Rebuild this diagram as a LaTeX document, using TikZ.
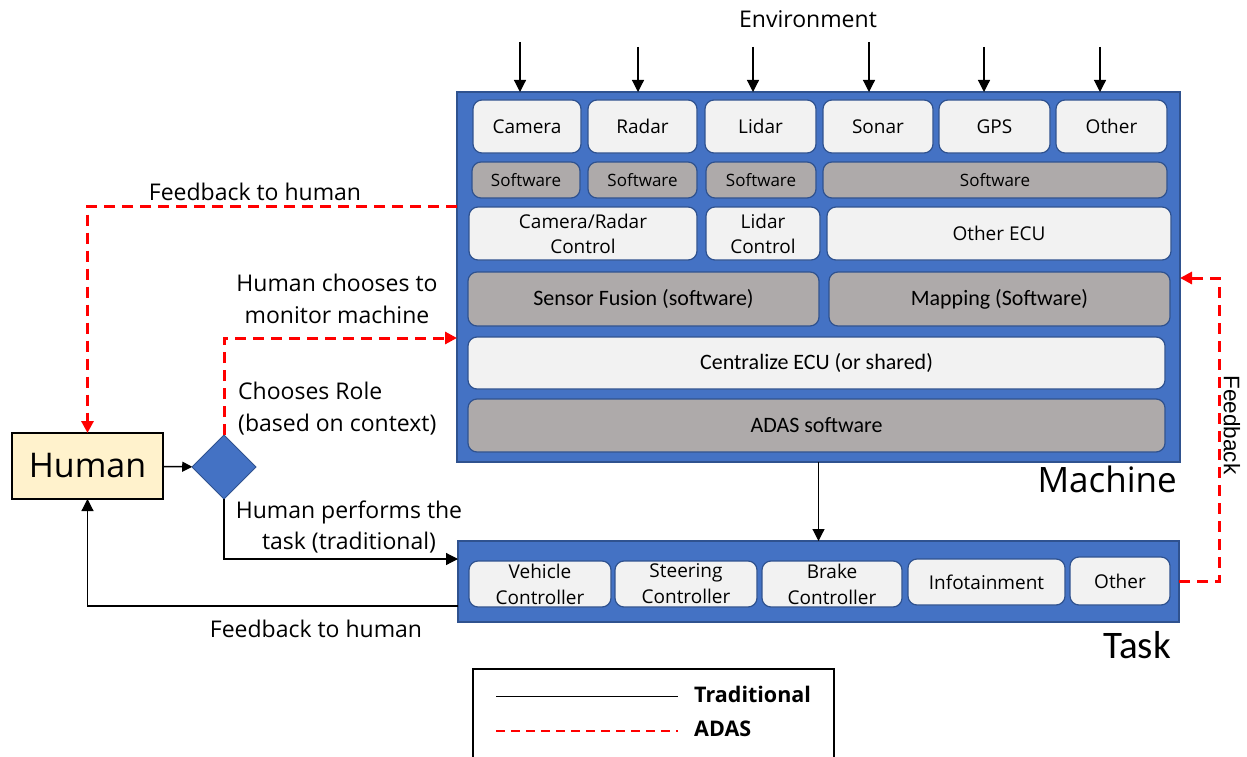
\documentclass[tikz,border=0pt]{standalone}
\usepackage{fontspec}
\setmainfont{Open Sans}
\newfontfamily\calfont{Carlito}
\newfontfamily\arfont{Liberation Sans}
\usetikzlibrary{arrows.meta,shapes.geometric}

\definecolor{blu}{HTML}{4472C4}
\definecolor{bluedge}{HTML}{2F528F}
\definecolor{lite}{HTML}{F2F2F2}
\definecolor{gry}{HTML}{AEAAAA}
\definecolor{hum}{HTML}{FFF2CC}
\definecolor{adasred}{HTML}{FF0000}

% block given by its corners: name, style, x1, y1, x2, y2, text
\newcommand\blk[7]{\node[#2,anchor=north west,minimum width={#5-#3},minimum height={#6-#4}] (#1) at (#3,#4) {#7};}

\begin{document}
\begin{tikzpicture}[x=1pt,y=-1pt,
  bigbox/.style={fill=blu,draw=bluedge,line width=1.6pt,inner sep=0pt,outer sep=0pt},
  litebox/.style={fill=lite,draw=bluedge,line width=1.2pt,rounded corners=9pt,inner sep=0pt,outer sep=0pt,align=center,font={\fontsize{19}{25}\selectfont}},
  grybox/.style={fill=gry,draw=bluedge,line width=1.2pt,rounded corners=9pt,inner sep=0pt,outer sep=0pt,align=center,font={\fontsize{17}{22}\selectfont}},
  calbox/.style={font={\calfont\fontsize{22}{26}\selectfont}},
  tskbox/.style={font={\fontsize{19}{26}\selectfont}},
  arr/.style={line width=1.2pt,-{Triangle[length=12pt,width=12pt]}},
  redarr/.style={adasred,line width=3pt,dash pattern=on 11pt off 7pt,-{Triangle[length=12pt,width=12pt]}},
  lbl/.style={inner sep=0pt,align=center,font={\fontsize{23}{32}\selectfont}}]
\useasboundingbox (0,0) rectangle (1247,757);
\clip (0,0) rectangle (1247,757);

% ---- machine ----
\blk{machine}{bigbox}{457}{92}{1180}{462}{}
\blk{cam}{litebox}{473}{100}{581}{153}{Camera}
\blk{rad}{litebox}{588}{100}{697}{153}{Radar}
\blk{lid}{litebox}{705}{100}{816}{153}{Lidar}
\blk{son}{litebox}{823}{100}{933}{153}{Sonar}
\blk{gps}{litebox}{939}{100}{1050}{153}{GPS}
\blk{oth}{litebox}{1056}{100}{1167}{153}{Other}
\blk{swa}{grybox}{472}{162}{580}{198}{Software}
\blk{swb}{grybox}{588}{162}{697}{198}{Software}
\blk{swc}{grybox}{706}{162}{816}{198}{Software}
\blk{swd}{grybox}{823}{162}{1167}{198}{Software}
\blk{crc}{litebox}{469}{207}{697}{260}{Camera/Radar\\Control}
\blk{lct}{litebox}{706}{207}{820}{260}{Lidar\\Control}
\blk{oecu}{litebox}{827}{207}{1171}{260}{Other ECU}
\blk{sfu}{grybox,calbox}{468}{272}{819}{326}{Sensor Fusion (software)}
\blk{map}{grybox,calbox}{829}{272}{1170}{326}{Mapping (Software)}
\blk{cecu}{litebox,calbox}{468}{337}{1165}{389}{Centralize ECU (or shared)}
\blk{adas}{grybox,calbox}{468}{399}{1165}{452}{ADAS software}

% ---- task ----
\blk{task}{bigbox}{458}{541}{1179}{622}{}
\blk{veh}{litebox,tskbox}{469}{561}{611}{607}{Vehicle\\Controller}
\blk{ste}{litebox,tskbox}{615}{561}{757}{607}{Steering\\Controller}
\blk{brk}{litebox,tskbox}{762}{561}{902}{607}{Brake\\Controller}
\blk{inf}{litebox,tskbox}{908}{559}{1065}{605}{Infotainment}
\blk{tot}{litebox,tskbox}{1070}{557}{1170}{605}{Other}

% ---- environment inputs ----
\node[lbl] (env) at (808,19) {Environment};
\coordinate (e1) at (520,42);
\coordinate (e2) at (638,47);
\coordinate (e3) at (753,47);
\coordinate (e4) at (869,42);
\coordinate (e5) at (984,47);
\coordinate (e6) at (1100,47);
\foreach \e in {e1,e2,e3,e4,e5,e6}
  \draw[arr] (\e) -- (\e |- machine.north);

\draw[arr] (machine.south) -- (task.north);

% ---- human and role choice ----
\node[draw=black,fill=hum,line width=1.6pt,minimum width=151pt,minimum height=66pt,inner sep=0pt,outer sep=0pt,
      font={\fontsize{34}{40}\selectfont}] (human) at (87.5,466) {Human};
\node[diamond,fill=blu,draw=bluedge,line width=1pt,minimum width=64pt,minimum height=64pt,inner sep=0pt,outer sep=0pt] (dia) at (224,467) {};
\draw[line width=1.4pt,-{Triangle[length=10pt,width=10pt]}] (human) -- (dia);

\draw[redarr] (machine.west |- 0,206) -| (human.north);
\draw[redarr] (dia.north) |- (machine.west |- 0,338);
\draw[arr] (dia.south) |- (task.west |- 0,559);
\draw[arr] (task.west |- 0,606) -| (human.south);

\coordinate (fbk) at (1219,278);
\draw[redarr] (task.east) -| (fbk) -- (machine.east |- fbk);

% ---- labels ----
\node[lbl] (lfa) at (255,192) {Feedback to human};
\node[lbl] (lmon) at (337,299) {Human chooses to\\monitor machine};
\node[lbl,anchor=west,align=left] (lrole) at (238,409) {Chooses Role\\(based on context)};
\node[lbl,font={\fontsize{23}{31}\selectfont}] (lperf) at (349,527) {Human performs the\\task (traditional)};
\node[lbl] (lfb) at (316,629) {Feedback to human};
\node[inner sep=0pt,anchor=base east,font={\fontsize{35}{40}\selectfont}] (lmach) at (1177,492) {Machine};
\node[inner sep=0pt,anchor=base east,font={\calfont\fontsize{39}{44}\selectfont}] (ltask) at (1171,658) {Task};
\node[inner sep=0pt,rotate=-90,font={\arfont\fontsize{22.5}{26}\selectfont}] (lfbk) at (1232,425) {Feedback};

% ---- legend ----
\node[draw=black,line width=1.6pt,anchor=north west,minimum width=361pt,minimum height=120pt,inner sep=0pt] (legend) at (472,668) {};
\coordinate (la) at (496,696);
\coordinate (lb) at (678,696);
\coordinate (lc) at (496,731);
\coordinate (ld) at (678,731);
\draw[line width=1pt] (la) -- (lb);
\draw[adasred,line width=2.4pt,dash pattern=on 9pt off 6pt] (lc) -- (ld);
\node[inner sep=0pt,anchor=west,font={\bfseries\fontsize{21.5}{24}\selectfont}] (ltrad) at (694,694) {Traditional};
\node[inner sep=0pt,anchor=west,font={\bfseries\fontsize{21.5}{24}\selectfont}] (ladas) at (694,729) {ADAS};
\end{tikzpicture}
\end{document}
